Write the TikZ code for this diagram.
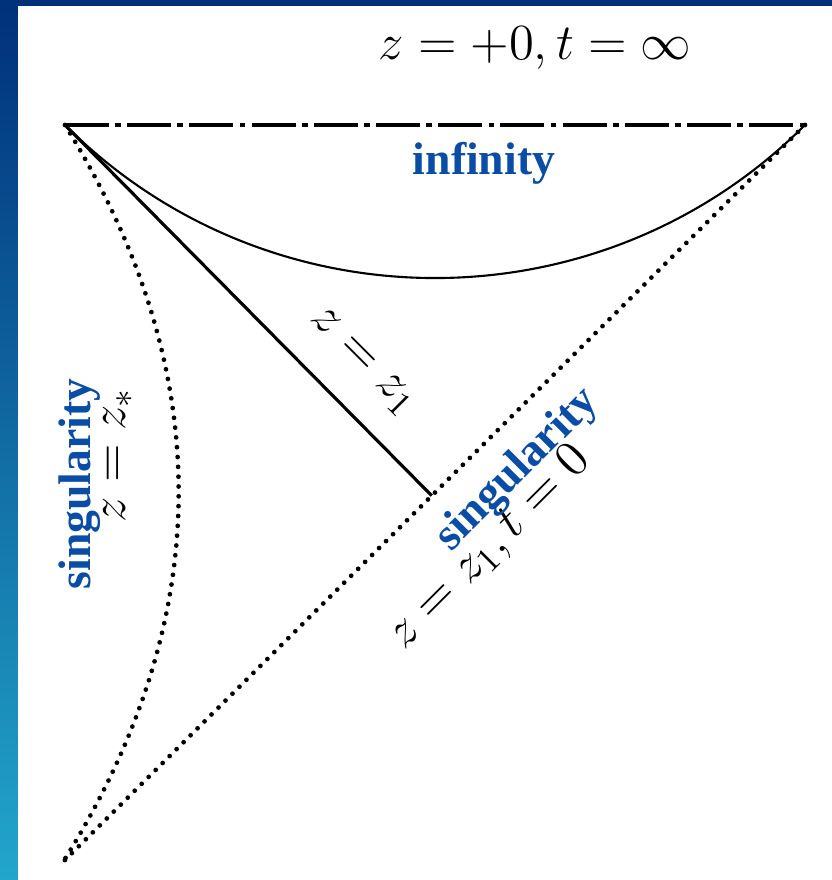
\documentclass[tikz,border=0pt]{standalone}
\usepackage{fontspec}
\newfontfamily\labelfont{Liberation Serif}
\usepackage{tikz}
\usetikzlibrary{calc,positioning}
\definecolor{framenavy}{HTML}{00307A}
\definecolor{framemid}{HTML}{004CA4}
\definecolor{framecyan}{HTML}{22A6CC}
\definecolor{labelblue}{HTML}{0A4DA6}
\tikzset{
  horizon/.style={line width=1.2pt,dash pattern=on 12.5pt off 1.8pt on 1.6pt off 1.8pt},
  dotline/.style={line width=1.35pt,line cap=round,dash pattern=on 0pt off 2.8pt},
  wall/.style={line width=0.9pt},
  thinarc/.style={line width=0.6pt},
  bluelabel/.style={text=labelblue,inner sep=0pt,font=\labelfont\bfseries\fontsize{13}{15}\selectfont},
  mathlabel/.style={inner sep=0pt,font=\fontsize{14}{16}\selectfont}
}

\begin{document}
\begin{tikzpicture}
\useasboundingbox (0,0) rectangle (8.32,8.80);
\shade[top color=framenavy,middle color=framemid,bottom color=framecyan] (0,0) rectangle (0.18,8.80);
\fill[framenavy] (0,8.74) rectangle (8.32,8.80);
\coordinate (tl) at (0.65,7.55);
\coordinate (tr) at (8.05,7.55);
\coordinate (bot) at (0.63,0.18);
\coordinate (mid) at ($(tr)!0.503!(bot)$);
\draw[horizon] (tl) -- (tr);
\draw[thinarc] (tl) to[bend right=45] (tr);
\draw[wall] (tl) -- (mid);
\draw[dotline] (tr) -- (bot);
\draw[dotline] (tl) to[bend left=32] (bot);
\node[mathlabel] (top) at (5.35,8.32) {$z=+0,t=\infty$};
\node[bluelabel] (inf) at (4.84,7.17) {infinity};
\node[mathlabel,rotate=-45] (zone) at (3.62,5.18) {$z=z_1$};
\node[mathlabel,rotate=90] (zstar) at (1.18,4.25) {$z=z_*$};
\node[mathlabel,rotate=45] (zt) at (4.90,3.32) {$z=z_1,t=0$};
\node[bluelabel,rotate=90] (singleft) at (0.80,3.96) {singularity};
\node[bluelabel,rotate=45] (singdiag) at (5.18,4.10) {singularity};
\end{tikzpicture}
\end{document}
